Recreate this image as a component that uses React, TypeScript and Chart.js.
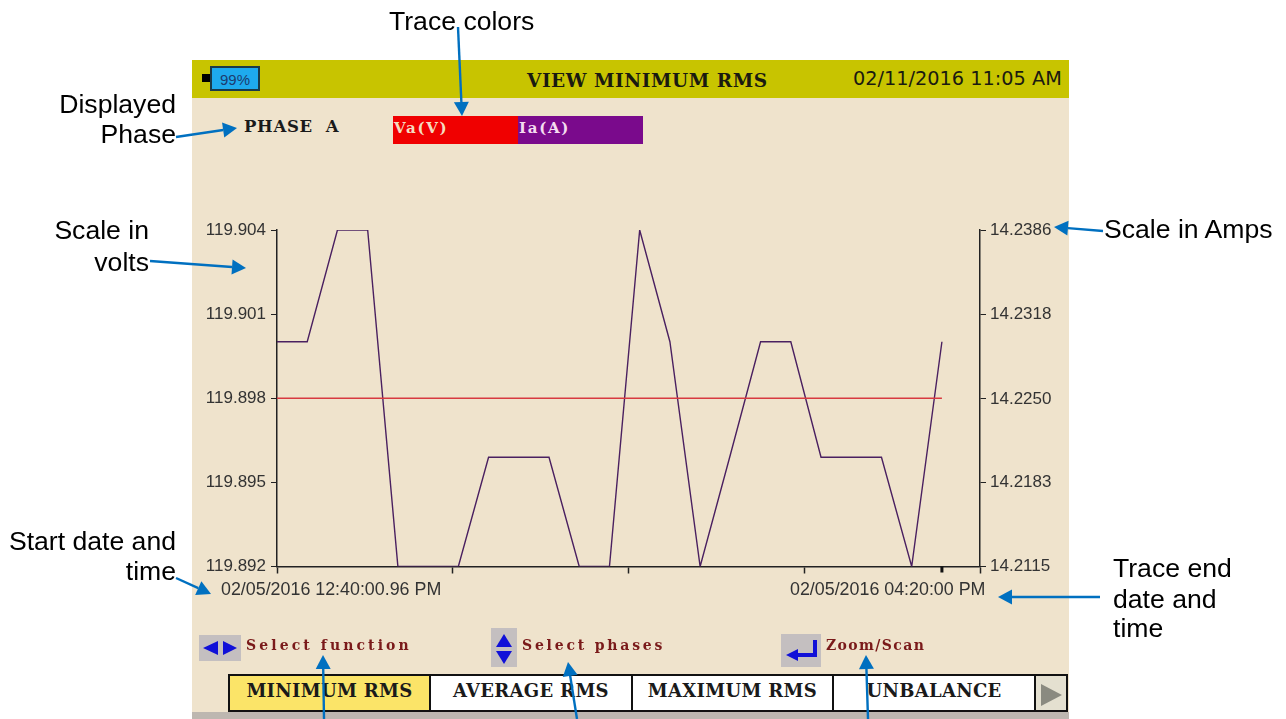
import React, { useEffect, useRef } from "react";
import { Chart, registerables } from "chart.js";

Chart.register(...registerables);

// ---- data -----
const minutes = [0, 10, 20, 30, 40, 50, 60, 70, 80, 90, 100, 110, 120, 130, 140, 150, 160, 170, 180, 190, 200, 210, 220];
const currentA = [14.2296, 14.2296, 14.2386, 14.2386, 14.2115, 14.2115, 14.2115, 14.2203, 14.2203, 14.2203, 14.2115, 14.2115, 14.2386, 14.2296, 14.2115, 14.2205, 14.2296, 14.2296, 14.2203, 14.2203, 14.2203, 14.2115, 14.2296];
const voltageV = [119.898, 119.898, 119.898, 119.898, 119.898, 119.898, 119.898, 119.898, 119.898, 119.898, 119.898, 119.898, 119.898, 119.898, 119.898, 119.898, 119.898, 119.898, 119.898, 119.898, 119.898, 119.898, 119.898];
const voltTicks = [119.892, 119.895, 119.898, 119.901, 119.904];
const ampTicks = [14.2115, 14.2183, 14.225, 14.2318, 14.2386];
const xAxisMax = 232.6;
const xTicks = [0, 58.15, 116.3, 174.45, 232.6];
const endMinute = 220;
const tabs = ["MINIMUM RMS", "AVERAGE RMS", "MAXIMUM RMS", "UNBALANCE"];

const SANS = '"Liberation Sans", Arial, sans-serif';
const SLAB = '"DejaVu Serif", serif';
const BLUE = "#0070c0";

const endMarker = {
  id: "endMarker",
  afterDraw(chart: any) {
    const { ctx, scales } = chart;
    const px = scales.x.getPixelForValue(endMinute);
    ctx.save();
    ctx.fillStyle = "#111";
    ctx.fillRect(px - 1.5, scales.x.top, 3, 6);
    ctx.restore();
  },
};

function Txt(p: { x: number; y: number; s: string; size: number; font?: string; color?: string; bold?: boolean; right?: boolean; ls?: number }) {
  const st: React.CSSProperties = {
    position: "absolute",
    top: p.y,
    transform: "translateY(-50%)",
    fontFamily: p.font || SANS,
    fontSize: p.size,
    color: p.color || "#000",
    fontWeight: p.bold ? 700 : 400,
    whiteSpace: "pre",
    lineHeight: 1,
    letterSpacing: p.ls || 0,
  };
  if (p.right) st.right = 1286 - p.x;
  else st.left = p.x;
  return <div style={st}>{p.s}</div>;
}

function Box(p: { x: number; y: number; w: number; h: number; bg: string; border?: string }) {
  return (
    <div
      style={{
        position: "absolute",
        left: p.x,
        top: p.y,
        width: p.w,
        height: p.h,
        background: p.bg,
        boxSizing: "border-box",
        border: p.border ? `2px solid ${p.border}` : "none",
      }}
    />
  );
}

function Arrow({ a, b }: { a: number[]; b: number[] }) {
  const dx = b[0] - a[0];
  const dy = b[1] - a[1];
  const len = Math.hypot(dx, dy);
  const ux = dx / len;
  const uy = dy / len;
  const bx = b[0] - ux * 14;
  const by = b[1] - uy * 14;
  const hx = -uy * 7.5;
  const hy = ux * 7.5;
  return (
    <g>
      <line x1={a[0]} y1={a[1]} x2={bx} y2={by} stroke={BLUE} strokeWidth={2.4} />
      <polygon points={`${b[0]},${b[1]} ${bx + hx},${by + hy} ${bx - hx},${by - hy}`} fill={BLUE} />
    </g>
  );
}

export default function App() {
  const ref = useRef<HTMLCanvasElement>(null);

  useEffect(() => {
    const tickFont = { family: SANS, size: 17 };
    const chart = new Chart(ref.current as HTMLCanvasElement, {
      type: "line",
      data: {
        labels: minutes,
        datasets: [
          {
            label: "Va(V)",
            data: minutes.map((m, i) => ({ x: m, y: voltageV[i] })),
            borderColor: "#d83a40",
            borderWidth: 1.5,
            pointRadius: 0,
            yAxisID: "y",
            tension: 0,
          },
          {
            label: "Ia(A)",
            data: minutes.map((m, i) => ({ x: m, y: currentA[i] })),
            borderColor: "#4a2060",
            borderWidth: 1.4,
            pointRadius: 0,
            yAxisID: "y2",
            tension: 0,
          },
        ],
      },
      plugins: [endMarker],
      options: {
        animation: false,
        responsive: false,
        maintainAspectRatio: false,
        layout: { autoPadding: false, padding: { top: 230, left: 0, right: 0, bottom: 0 } },
        plugins: { legend: { display: false }, title: { display: false }, tooltip: { enabled: false } },
        scales: {
          x: {
            type: "linear",
            min: 0,
            max: xAxisMax,
            afterBuildTicks: (s: any) => { s.ticks = xTicks.map((v) => ({ value: v })); },
            afterFit: (s: any) => { s.height = 152.5; },
            border: { color: "#222", width: 1.5 },
            grid: { drawOnChartArea: false, tickLength: 7, color: "#222", tickWidth: 1.5 },
            ticks: { callback: () => "", maxRotation: 0, autoSkip: false },
          },
          y: {
            position: "left",
            min: voltTicks[0],
            max: voltTicks[voltTicks.length - 1],
            afterBuildTicks: (s: any) => { s.ticks = voltTicks.map((v) => ({ value: v })); },
            afterFit: (s: any) => { s.width = 277; },
            border: { color: "#222", width: 1.5 },
            grid: { drawOnChartArea: false, tickLength: 6, color: "#222" },
            ticks: { font: tickFont, color: "#333", padding: 5, autoSkip: false, maxRotation: 0, callback: (v: any) => Number(v).toFixed(3) },
          },
          y2: {
            position: "right",
            min: ampTicks[0],
            max: ampTicks[ampTicks.length - 1],
            afterBuildTicks: (s: any) => { s.ticks = ampTicks.map((v) => ({ value: v })); },
            afterFit: (s: any) => { s.width = 306; },
            border: { color: "#222", width: 1.5 },
            grid: { drawOnChartArea: false, tickLength: 6, color: "#222" },
            ticks: { font: tickFont, color: "#333", padding: 4, autoSkip: false, maxRotation: 0, callback: (v: any) => Number(v).toFixed(4) },
          },
        },
      },
    } as any);
    return () => chart.destroy();
  }, []);

  const tabEdges = [228, 429, 631, 832, 1034];

  return (
    <div style={{ position: "absolute", left: 0, top: 0, width: 1286, height: 719, overflow: "hidden", background: "#fff" }}>
      {/* instrument screen */}
      <Box x={192} y={60} w={877} h={659} bg="#efe3cc" />
      <Box x={192} y={60} w={877} h={38} bg="#c8c400" />
      <Box x={192} y={712} w={877} h={7} bg="#bdb7b0" />
      <Box x={202} y={74} w={9} h={8} bg="#000" />
      <Box x={210} y={66} w={50} h={25} bg="#1eaaee" border="#1a3a4a" />
      <Txt x={220} y={79} s="99%" size={15} color="#1c3c70" />
      <Txt x={527} y={81} s="VIEW MINIMUM RMS" size={18.5} font={SLAB} bold ls={0.55} color="#1a1a10" />
      <Txt x={853} y={79} s="02/11/2016 11:05 AM" size={19.3} font={'"DejaVu Sans", sans-serif'} color="#1a1a10" />
      <Txt x={244} y={127} s="PHASE  A" size={16.5} font={SLAB} bold ls={0.7} color="#1a1a1a" />
      <Box x={393} y={116} w={125} h={28} bg="#f00000" />
      <Box x={518} y={116} w={125} h={28} bg="#7a0a8c" />
      <Txt x={394} y={128} s="Va(V)" size={15} font={SLAB} bold ls={1.7} color="#f4dcc0" />
      <Txt x={519} y={128} s="Ia(A)" size={15} font={SLAB} bold ls={1.7} color="#f4dcf0" />

      <canvas ref={ref} width={1286} height={719} style={{ position: "absolute", left: 0, top: 0, width: 1286, height: 719 }} />

      <Txt x={221} y={590} s="02/05/2016 12:40:00.96 PM" size={17.85} color="#333" />
      <Txt x={790} y={590} s="02/05/2016 04:20:00 PM" size={17.85} color="#333" />

      {/* key hints */}
      <Box x={199} y={635} w={42} h={26} bg="#c4bfc0" />
      <Box x={491} y={628} w={26} h={39} bg="#c4bfc0" />
      <Box x={781} y={634} w={40} h={33} bg="#c4bfc0" />
      <Txt x={246} y={645} s="Select function" size={14} font={SLAB} bold ls={3.1} color="#7a1a1a" />
      <Txt x={522} y={645} s="Select phases" size={14} font={SLAB} bold ls={2.8} color="#7a1a1a" />
      <Txt x={826} y={645} s="Zoom/Scan" size={14} font={SLAB} bold ls={1.4} color="#7a1a1a" />

      {/* tabs */}
      {tabs.map((t, i) => (
        <div
          key={t}
          style={{
            position: "absolute",
            left: tabEdges[i],
            top: 674,
            width: tabEdges[i + 1] - tabEdges[i] + 2,
            height: 38,
            boxSizing: "border-box",
            border: "2px solid #111",
            background: i === 0 ? "#fbe468" : "#fff",
            fontFamily: SLAB,
            fontWeight: 700,
            fontSize: 18,
            letterSpacing: 0.3,
            color: "#1a1a1a",
            textAlign: "center",
            lineHeight: "30px",
            whiteSpace: "pre",
          }}
        >
          {t}
        </div>
      ))}
      <div style={{ position: "absolute", left: 1034, top: 674, width: 34, height: 38, boxSizing: "border-box", border: "2px solid #111", background: "#e4e0d0" }} />

      {/* annotation labels */}
      <Txt x={389} y={21} s="Trace colors" size={26.6} />
      <Txt x={176} y={104} s="Displayed" size={26.6} right />
      <Txt x={176} y={134} s="Phase" size={26.6} right />
      <Txt x={149} y={230} s="Scale in" size={26.6} right />
      <Txt x={149} y={262} s="volts" size={26.6} right />
      <Txt x={1104} y={229} s="Scale in Amps" size={26.6} />
      <Txt x={176} y={541} s="Start date and" size={26.6} right />
      <Txt x={176} y={571} s="time" size={26.6} right />
      <Txt x={1113} y={568} s="Trace end" size={26.6} />
      <Txt x={1113} y={599} s="date and" size={26.6} />
      <Txt x={1113} y={628} s="time" size={26.6} />

      <svg width={1286} height={719} style={{ position: "absolute", left: 0, top: 0 }}>
        {/* key icons */}
        <polygon points="203,648 218,641 218,655" fill="#1010d8" />
        <polygon points="237,648 223,641 223,655" fill="#1010d8" />
        <polygon points="504,634 496,647 512,647" fill="#1010d8" />
        <polygon points="504,664 496,651 512,651" fill="#1010d8" />
        <polygon points="786,655 798,649 798,661" fill="#1010d8" />
        <polyline points="796,655 815,655 815,640" fill="none" stroke="#1010d8" strokeWidth={4} />
        <polygon points="1041,684 1041,706 1062,695" fill="#8a8a80" />
        {/* callout arrows */}
        <Arrow a={[458, 27]} b={[462, 116]} />
        <Arrow a={[176, 137]} b={[237, 128]} />
        <Arrow a={[150, 261]} b={[246, 268]} />
        <Arrow a={[1103, 231]} b={[1054, 227]} />
        <Arrow a={[176, 578]} b={[211, 594]} />
        <Arrow a={[1100, 597]} b={[998, 597]} />
        <Arrow a={[324, 719]} b={[323, 655]} />
        <Arrow a={[577, 719]} b={[568, 662]} />
        <Arrow a={[868, 719]} b={[866, 655]} />
      </svg>
    </div>
  );
}
